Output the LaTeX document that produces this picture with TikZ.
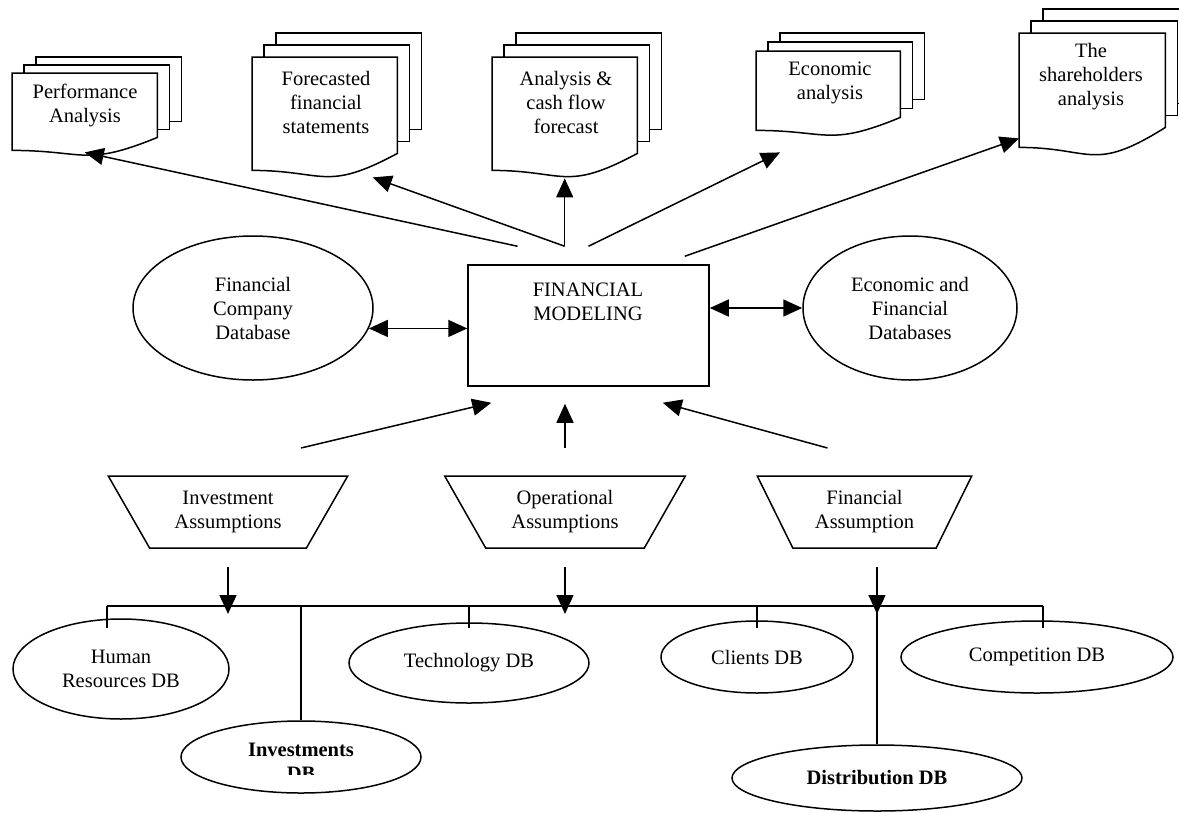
\documentclass[tikz,border=0pt]{standalone}
\usepackage{fontspec}
\setmainfont{Liberation Serif}
\usetikzlibrary{arrows.meta,shapes.geometric,calc}

\pgfdeclarelayer{background}
\pgfsetlayers{background,main}

\tikzset{
    line/.style = {line width=1.5pt},
    page/.style = {draw, fill=white, line width=1.5pt},
    doc/.style = {minimum width=145pt, inner sep=0pt, anchor=north west},
    txt/.style = {align=center, inner sep=0pt, font=\fontsize{20.5}{24}\selectfont},
    bold/.style = {font=\fontsize{20.5}{24}\selectfont\bfseries},
    db/.style = {draw, ellipse, line width=1.5pt, inner sep=0pt, align=center, font=\fontsize{20.5}{24}\selectfont},
    assum/.style = {draw, trapezium, trapezium stretches=true, shape border rotate=180, minimum height=72pt, inner sep=0pt, line width=1.5pt, align=center, font=\fontsize{20.5}{24}\selectfont},
    arr/.style = {-{Triangle[length=19pt,width=17pt]}, line width=1.5pt},
    dbl/.style = {{Triangle[length=19pt,width=17pt]}-{Triangle[length=19pt,width=17pt]}, line width=1.5pt}
}

% node, dx, dy, rise of the wavy bottom
\newcommand{\docstack}[4]{%
    \begin{pgfonlayer}{background}
    \foreach \k in {2,1}
        \draw[page] ([shift={(\k*#2,-\k*#3)}]#1.north west) rectangle ([shift={(\k*#2,-\k*#3-#4)}]#1.south east);
    \draw[page] (#1.south west) -- (#1.north west) -- (#1.north east) -- ([shift={(0,-#4)}]#1.south east)
        .. controls ([shift={(0,1.3*#4)}]#1.south) and (#1.south) .. (#1.south west) -- cycle;
    \end{pgfonlayer}}

\begin{document}
\begin{tikzpicture}[x=1pt, y=-1pt]

    \useasboundingbox (0,0) rectangle (1179,812);
    \begin{pgfonlayer}{background}
        \fill[white] (0,0) rectangle (1179,812);
    \end{pgfonlayer}

    \node[doc, minimum height=77pt] (perf) at (12,73) {};
    \node[txt] (perf-t) at (85,105) {Performance\\Analysis};
    \docstack{perf}{12}{8}{13}

    \node[doc, minimum height=113pt] (fore) at (252,57) {};
    \node[txt] (fore-t) at (326,102) {Forecasted\\financial\\statements};
    \docstack{fore}{12}{12}{17}

    \node[doc, minimum height=113pt] (anal) at (492,57) {};
    \node[txt] (anal-t) at (566,102) {Analysis \&\\cash flow\\forecast};
    \docstack{anal}{12}{12}{17}

    \node[doc, minimum width=144pt, minimum height=79pt] (econ) at (756,51) {};
    \node[txt] (econ-t) at (830,83) {Economic\\analysis};
    \docstack{econ}{12}{9}{13}

    \node[doc, minimum width=146pt, minimum height=114pt] (share) at (1019,33) {};
    \node[txt] (share-t) at (1091,77) {The\\shareholders\\analysis};
    \docstack{share}{12}{12}{20}

    \node[draw, line width=1.5pt, minimum width=241pt, minimum height=121pt, inner sep=0pt] (fm) at (588.5,325.5) {};
    \node[txt] (fm-t) at (588,302) {FINANCIAL\\MODELING};

    \node[db, minimum width=240pt, minimum height=144pt] (fcd) at (253,308) {Financial\\Company\\Database};
    \node[db, minimum width=214pt, minimum height=144pt] (efd) at (910,308) {Economic and\\Financial\\Databases};
    \draw[dbl] (fcd.-10) -- (fcd.-10 -| fm.west);
    \draw[dbl] (fm.east |- efd.west) -- (efd.west);

    \draw[arr] ($(fm.north)+(-71,-18)$) -- ($(perf.south)+(0,2)$);
    \draw[arr] ($(anal.south |- fm.north)+(0,-18)$) -- ($(fore.south)+(48,7)$);
    \draw[arr] ($(anal.south |- fm.north)+(0,-18)$) -- ($(anal.south)+(0,8)$);
    \draw[arr] ($(fm.north)+(0,-18)$) -- ($(econ.south west)+(24,22)$);
    \draw[arr] ($(fm.north east)+(-25,-8)$) -- ($(share.south west)+(0,-9)$);

    \node[assum, minimum width=240pt, trapezium angle=56] (invA) at (228,512) {Investment\\Assumptions};
    \node[assum, minimum width=241pt, trapezium angle=57] (opA) at (565,512) {Operational\\Assumptions};
    \node[assum, minimum width=215pt, trapezium angle=60] (finA) at (864.5,512) {Financial\\Assumption};

    \draw[arr] ($(invA)+(73,-64)$) -- ($(fm.south west)+(24,16)$);
    \draw[arr] ($(opA)+(0,-64)$) -- ($(opA |- fm.south)+(0,17)$);
    \draw[arr] ($(finA)+(-37,-64)$) -- ($(fm.south east)+(-47,16)$);

    \node[db, minimum width=216pt, minimum height=100pt] (hrdb) at (121,669) {Human\\Resources DB};
    \node[db, minimum width=240pt, minimum height=80pt] (techdb) at (469,663) {Technology DB};
    \node[db, minimum width=192pt, minimum height=72pt] (clidb) at (757,657) {Clients DB};
    \node[db, minimum width=272pt, minimum height=72pt] (compdb) at (1037,657) {Competition DB};
    \node[db, minimum width=240pt, minimum height=72pt] (invdb) at (301,757) {};
    \node[db, bold, minimum width=290pt, minimum height=66pt] (distdb) at (877,778) {Distribution DB};
    \begin{scope}
        \clip (181,740) rectangle (421,774);
        \node[txt, bold] (invdb-t) at (301,762) {Investments\\DB};
    \end{scope}

    \coordinate (busL) at (107,606);
    \coordinate (busR) at (1043,606);
    \draw[line] (busL) -- (busR);
    \draw[line] (busL) -- ($(busL |- hrdb.north)+(0,10)$);
    \draw[line] (busL -| invdb) -- (invdb.north);
    \draw[line] (busL -| techdb) -- ($(techdb.north)+(0,6)$);
    \draw[line] (busL -| clidb) -- ($(clidb.north)+(0,8)$);
    \draw[line] (busL -| distdb) -- (distdb.north);
    \draw[line] (busR) -- ($(busR |- compdb.north)+(0,8)$);

    \draw[arr] ($(invA)+(0,55)$) -- ($(invA |- busL)+(0,8)$);
    \draw[arr] ($(opA)+(0,55)$) -- ($(opA |- busL)+(0,8)$);
    \draw[arr] ($(distdb |- finA)+(0,55)$) -- ($(distdb |- busL)+(0,8)$);

\end{tikzpicture}
\end{document}
